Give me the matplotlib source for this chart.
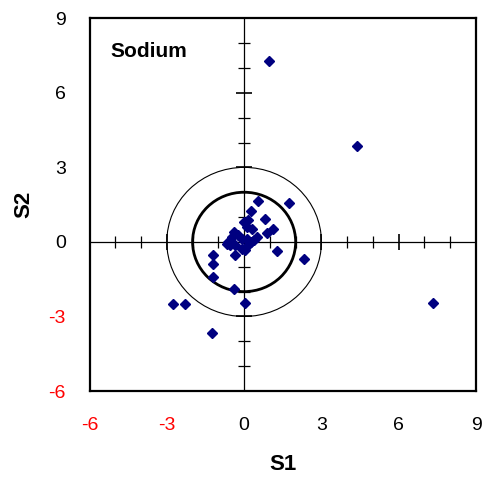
import numpy as np
import matplotlib
matplotlib.use('Agg')
import matplotlib.pyplot as plt
from matplotlib.patches import Circle

plt.rcParams['font.family'] = ['Liberation Sans', 'DejaVu Sans']
plt.rcParams['axes.unicode_minus'] = False

# scores on the first two axes
s1 = [0.98, 4.40, 7.33, -2.75, -2.30, -1.24, 0.02, -0.40, 0.52, 1.74,
      0.28, 0.82, 1.14, 0.88, 1.27, 2.31, -1.21, -1.21, -1.21, -0.02,
      0.17, 0.11, 0.30, -0.41, -0.47, -0.61, -0.22, -0.09, 0.11, 0.37,
      0.17, -0.35, -0.54, 0.50, -0.09, -0.35, 0.04, -0.66, 0.25]
s2 = [7.29, 3.88, -2.44, -2.48, -2.49, -3.65, -2.46, -1.89, 1.63, 1.58,
      1.24, 0.91, 0.53, 0.37, -0.36, -0.70, -0.54, -0.90, -1.41, 0.80,
      0.87, 0.60, 0.53, 0.40, 0.20, 0.00, 0.27, 0.13, 0.13, 0.06,
      -0.14, -0.14, -0.14, 0.20, -0.27, -0.52, -0.34, -0.10, 0.00]

ticks = [-6, -3, 0, 3, 6, 9]
lim = (-6, 9)
radii = {2: 2.0, 3: 0.8}  # radius -> line width

fig = plt.figure(figsize=(4.82, 4.79), dpi=100)
ax = fig.add_axes([0.1857, 0.1837, 0.8019, 0.7781])

ax.set_xlim(lim)
ax.set_ylim(lim)
ax.set_xticks(ticks)
ax.set_yticks(ticks)
ax.tick_params(length=0, labelsize=14)
ax.tick_params(axis='x', pad=19)
ax.tick_params(axis='y', pad=17)
for lab, t in zip(ax.get_xticklabels(), ticks):
    lab.set_color('red' if t < 0 else 'black')
for lab, t in zip(ax.get_yticklabels(), ticks):
    lab.set_color('red' if t < 0 else 'black')
for sp in ax.spines.values():
    sp.set_linewidth(1.6)

# cross through the origin with its own ticks
ax.axhline(0, color='black', lw=0.9, zorder=1)
ax.axvline(0, color='black', lw=0.9, zorder=1)
inner = np.arange(lim[0] + 1, lim[1])
inner = inner[inner != 0]
minor = inner[inner % 3 != 0]
major = inner[inner % 3 == 0]
ax.plot(minor, np.zeros_like(minor), '|', color='black', ms=8, mew=0.9, zorder=1)
ax.plot(major, np.zeros_like(major), '|', color='black', ms=11, mew=1.2, zorder=1)
ax.plot(np.zeros_like(minor), minor, '_', color='black', ms=8, mew=0.9, zorder=1)
ax.plot(np.zeros_like(major), major, '_', color='black', ms=11, mew=1.2, zorder=1)

for r, w in radii.items():
    ax.add_patch(Circle((0, 0), r, fill=False, ec='black', lw=w, zorder=2))

ax.plot(s1, s2, 'D', color='#000080', ms=5, mec='#000080', zorder=3)

ax.text(0.053, 0.91, 'Sodium', transform=ax.transAxes, fontsize=15,
        fontweight='bold', va='center', ha='left')
ax.set_xlabel('S1', fontsize=16, fontweight='bold', labelpad=14)
ax.set_ylabel('S2', fontsize=16, fontweight='bold', labelpad=10)

fig.savefig('out.png', dpi=100)
